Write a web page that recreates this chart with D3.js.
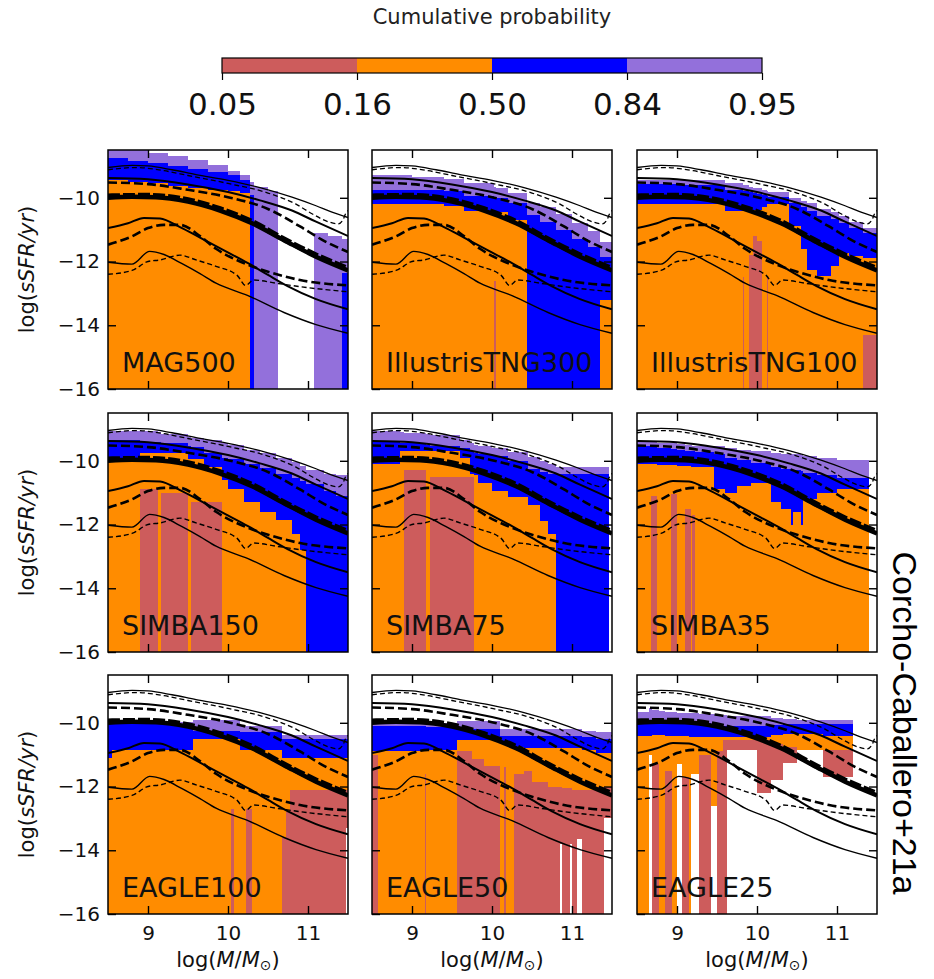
<!DOCTYPE html>
<html>
<head>
<meta charset="utf-8">
<script src="https://cdn.jsdelivr.net/npm/d3@7"></script>
<style>
  body { margin: 0; background: #fff; }
  svg { display: block; font-family: "DejaVu Sans", sans-serif; }
</style>
</head>
<body>
<div id="chart"></div>
<script>
// null = percentile below the plotted range (sSFR = 0)
const N = null;

const panelNames = ["MAG500", "IllustrisTNG300", "IllustrisTNG100",
                    "SIMBA150", "SIMBA75", "SIMBA35",
                    "EAGLE100", "EAGLE50", "EAGLE25"];
const cbarLabels = ["0.05", "0.16", "0.50", "0.84", "0.95"];
const bandColors = ["#cd5c5c", "#ff8c00", "#0000ff", "#9370db"];
const xTicks = [9, 10, 11];
const yTicks = [-10, -12, -14, -16];

// each bin: [log M start, p5, p16, p50, p84, p95] of log sSFR
const binsMAG500 = [
  [8.50, N, N, -9.45, -8.75, -8.3], [8.75, N, N, -9.5, -8.85, -8.45],
  [9.00, N, N, -9.55, -8.9, -8.58], [9.25, N, N, -9.62, -9.0, -8.68],
  [9.50, N, N, -9.7, -9.1, -8.8], [9.75, N, N, -9.75, -9.2, -8.98],
  [10.00, N, N, -9.8, -9.3, -9.15], [10.15, N, N, -9.85, -9.45, -9.3],
  [10.27, N, N, N, -9.9, -9.5], [10.33, N, N, N, N, -9.65],
  [10.50, N, N, N, N, -9.8], [10.62, N, N, N, N, N],
  [11.08, N, N, N, N, -11.1], [11.25, N, N, N, N, -11.2],
  [11.42, N, N, N, -12.35, -11.3]
];
const binsTNG300 = [
  [8.50, N, N, -10.2, -9.74, -9.3], [9.00, N, N, -10.2, -9.74, -9.35],
  [9.40, N, N, -10.25, -9.78, -9.4], [9.65, N, N, -10.4, -9.95, -9.55],
  [10.02, N, -12.6, -10.5, -10.0, -9.65], [10.05, N, N, -10.45, -10.0, -9.7],
  [10.20, N, N, -10.7, -10.15, -9.85], [10.44, N, N, N, -10.55, -10.15],
  [10.60, N, N, N, -10.75, -10.3], [10.80, N, N, N, -11.0, -10.5],
  [11.00, N, N, N, -11.3, -10.8], [11.20, N, N, N, -11.55, -11.05],
  [11.35, N, N, -13.2, -11.85, -11.4]
];
const binsTNG100 = [
  [8.50, N, N, -10.2, -9.58, -9.43], [9.00, N, N, -10.2, -9.6, -9.45],
  [9.60, N, N, -10.42, -9.75, -9.55], [9.82, N, -12.5, -10.4, -9.8, -9.6],
  [9.84, N, N, -10.4, -9.8, -9.6], [9.90, N, -11.8, -10.37, -9.82, -9.65],
  [9.95, N, -11.2, -10.37, -9.85, -9.68], [10.00, N, -11.35, -10.37, -9.88, -9.7],
  [10.06, N, N, -10.3, -9.9, -9.75], [10.12, N, -12.5, -10.2, -9.95, -9.8],
  [10.14, N, N, -10.2, -9.98, -9.82], [10.40, N, N, -10.9, -10.15, -10.0],
  [10.55, N, N, -11.6, -10.3, -10.1], [10.62, N, N, -12.25, -10.4, -10.15],
  [10.75, N, N, -12.45, -10.57, -10.36], [10.92, N, N, -12.15, -10.65, -10.45],
  [11.02, N, N, -11.72, -10.78, -10.57], [11.15, N, N, -11.83, -10.95, -10.75],
  [11.33, N, -14.3, -11.88, -11.1, -10.95]
];
const binsSIMBA150 = [
  [8.50, N, N, -10.0, -9.34, -9.08], [8.90, N, -10.9, -9.75, -9.4, -9.08],
  [9.12, N, N, -9.75, -9.42, -9.1], [9.16, N, -11.0, -9.75, -9.45, -9.15],
  [9.50, N, N, -9.95, -9.55, -9.24], [9.54, N, -11.3, -9.95, -9.58, -9.27],
  [9.70, N, -11.3, -10.2, -9.75, -9.35], [9.92, N, N, -10.6, -9.9, -9.45],
  [10.00, N, N, -10.9, -9.95, -9.5], [10.20, N, N, -11.3, -10.1, -9.65],
  [10.40, N, N, -11.6, -10.22, -9.75], [10.60, N, N, -11.85, -10.4, -9.9],
  [10.80, N, N, -12.3, -10.55, -10.05], [10.90, N, N, -12.8, -10.62, -10.15],
  [10.97, N, N, N, -10.72, -10.28], [11.20, N, N, N, -10.95, -10.4],
  [11.35, N, N, N, -11.1, -10.44]
];
const binsSIMBA75 = [
  [8.50, N, N, -10.1, -9.4, -9.08], [8.85, N, N, -9.7, -9.43, -9.1],
  [8.90, N, -10.3, -9.7, -9.45, -9.12], [9.18, N, N, -9.7, -9.5, -9.15],
  [9.22, N, -10.5, -9.7, -9.52, -9.2], [9.60, N, -10.5, -9.9, -9.6, -9.35],
  [9.73, N, -10.5, -10.4, -9.7, -9.45], [9.77, N, N, -10.45, -9.75, -9.5],
  [9.83, N, N, -10.7, -9.8, -9.55], [10.00, N, N, -10.95, -9.86, -9.6],
  [10.20, N, N, -11.15, -10.0, -9.72], [10.45, N, N, -11.4, -10.25, -9.88],
  [10.60, N, N, -11.9, -10.35, -10.0], [10.70, N, N, -12.3, -10.4, -10.1],
  [10.80, N, N, N, -10.42, -10.18], [11.46, N, N, N, N, N]
];
const binsSIMBA35 = [
  [8.50, N, N, -10.1, -9.55, -9.4], [8.67, N, -11.1, -10.1, -9.57, -9.42],
  [8.75, N, N, -10.12, -9.6, -9.43], [8.92, N, -11.05, -10.12, -9.62, -9.45],
  [9.00, N, N, -10.15, -9.65, -9.47], [9.10, N, -11.5, -10.15, -9.68, -9.5],
  [9.17, N, N, -10.18, -9.7, -9.5], [9.19, N, -11.7, -10.18, -9.7, -9.52],
  [9.22, N, N, -10.2, -9.72, -9.53], [9.46, N, N, -10.9, -9.8, -9.55],
  [9.60, N, N, -11.0, -9.9, -9.6], [9.75, N, N, -10.8, -9.98, -9.65],
  [9.92, N, N, -10.7, -10.07, -9.7], [10.17, N, N, -11.3, -10.2, -9.75],
  [10.30, N, N, -11.5, -10.25, -9.78], [10.42, N, N, -12.0, -10.28, -9.8],
  [10.45, N, N, -11.6, -10.3, -9.8], [10.55, N, N, -12.0, -10.33, -9.82],
  [10.58, N, N, -11.2, -10.38, -9.85], [10.75, N, N, -11.0, -10.45, -9.9],
  [11.00, N, N, -10.9, -10.55, -9.98], [11.40, N, N, N, N, N]
];
const binsEAGLE100 = [
  [8.50, N, N, -11.1, -10.05, -9.98], [8.55, N, N, -10.84, -10.05, -9.98],
  [9.56, N, N, -10.52, -10.26, -9.9], [10.04, N, -12.7, -10.52, -10.26, -9.9],
  [10.08, N, N, -10.52, -10.26, -9.9], [10.15, N, N, -10.84, -10.3, -10.1],
  [10.22, N, -12.7, -10.84, -10.3, -10.1], [10.30, N, N, -10.84, -10.3, -10.1],
  [10.67, N, -13.6, -11.1, -10.52, -10.37], [10.72, N, -12.8, -11.1, -10.52, -10.37],
  [10.78, N, -12.1, -11.1, -10.52, -10.37], [11.48, -13.3, -12.1, -11.1, -10.52, -10.37]
];
const binsEAGLE50 = [
  [8.50, N, -11.0, -10.9, -10.1, -10.0], [8.57, N, N, -10.9, -10.1, -10.0],
  [9.16, N, -11.6, -10.88, -10.1, -10.0], [9.18, N, N, -10.85, -10.12, -10.0],
  [9.56, N, -10.9, -10.55, -10.2, -9.95], [9.75, N, -11.15, -10.55, -10.2, -9.95],
  [9.90, N, -11.35, -10.55, -10.2, -9.95], [10.10, N, N, -10.65, -10.4, -10.2],
  [10.15, N, -11.4, -10.65, -10.4, -10.2], [10.17, N, N, -10.7, -10.4, -10.2],
  [10.27, N, -11.6, -10.75, -10.4, -10.2], [10.40, N, -11.5, -10.78, -10.4, -10.2],
  [10.50, N, -11.85, -10.8, -10.4, -10.2], [10.70, N, -12.0, -10.8, -10.4, -10.2],
  [10.85, -13.8, -12.0, -10.8, -10.4, -10.2], [10.88, N, -12.05, -10.8, -10.4, -10.2],
  [10.98, -13.8, -12.05, -10.8, -10.4, -10.2], [11.00, N, -12.1, -10.8, -10.4, -10.2],
  [11.06, -13.65, -12.1, -10.8, -10.4, -10.2], [11.13, N, -12.1, -10.85, -10.45, -10.25],
  [11.30, N, -12.0, -10.95, -10.5, -10.3], [11.40, -13.0, -12.0, -10.95, -10.5, -10.3]
];
const binsEAGLE25 = [
  [8.50, N, N, -10.4, -9.95, -9.65], [8.65, -11.0, -11.0, -10.4, -9.95, -9.55],
  [8.69, N, -11.3, -10.38, -9.95, -9.6], [8.77, N, N, -10.38, -9.95, -9.62],
  [8.85, N, -11.5, -10.4, -9.98, -9.65], [8.94, N, N, -10.4, -9.98, -9.65],
  [9.00, -11.3, -11.3, -10.42, -10.0, -9.68], [9.06, N, -11.7, -10.42, -10.0, -9.68],
  [9.15, N, N, -10.45, -10.0, -9.7], [9.17, -11.6, -11.6, -10.45, -10.02, -9.7],
  [9.27, N, -11.0, -10.45, -10.02, -9.72], [9.42, -12.6, -12.6, -10.45, -10.05, -9.72],
  [9.50, N, -10.9, -10.45, -10.05, -9.75], [9.58, N, -10.55, -10.45, -10.1, -9.75],
  [9.62, -10.85, -10.55, -10.45, -10.1, -9.78], [10.00, -12.2, -10.55, -10.45, -10.1, -9.8],
  [10.17, -11.8, -10.65, -10.37, -10.08, -9.85], [10.33, -11.25, -10.75, -10.35, -10.05, -9.88],
  [10.50, -10.85, -10.85, -10.35, -10.05, -9.9], [10.83, -11.7, -10.85, -10.4, -10.05, -9.9],
  [11.20, N, N, N, N, N]
];
const panelBins = [binsMAG500, binsTNG300, binsTNG100, binsSIMBA150, binsSIMBA75,
                   binsSIMBA35, binsEAGLE100, binsEAGLE50, binsEAGLE25];

// reference percentile curves, the same in every panel: [log M, log sSFR]
const solid95 = [[8.5,-9.05],[8.8,-8.98],[9.0,-9.0],[9.3,-9.12],[9.6,-9.27],[10.0,-9.45],[10.4,-9.68],[10.8,-9.98],[11.1,-10.25],[11.3,-10.45],[11.5,-10.62]];
const dashed95 = [[8.5,-9.12],[8.85,-9.05],[9.2,-9.15],[9.5,-9.3],[10.0,-9.55],[10.5,-9.85],[10.85,-10.2],[11.05,-10.5],[11.25,-10.75],[11.38,-10.82],[11.44,-10.68],[11.47,-10.5],[11.5,-10.4]];
const solid84 = [[8.5,-9.38],[9.0,-9.42],[9.5,-9.58],[10.0,-9.82],[10.4,-10.08],[10.8,-10.4],[11.1,-10.75],[11.5,-11.2]];
const dashed84 = [[8.5,-9.52],[9.0,-9.57],[9.5,-9.75],[10.0,-9.98],[10.5,-10.35],[10.9,-10.9],[11.2,-11.35],[11.5,-11.7]];
const solid50 = [[8.5,-10.0],[8.8,-9.97],[9.1,-9.98],[9.5,-10.12],[9.9,-10.4],[10.3,-10.8],[10.7,-11.33],[11.1,-11.85],[11.5,-12.28]];
const dashed50 = [[8.5,-9.95],[9.0,-9.93],[9.5,-10.07],[9.9,-10.35],[10.3,-10.75],[10.7,-11.3],[11.1,-11.8],[11.5,-12.22]];
const solid16 = [[8.5,-10.95],[8.75,-10.8],[8.95,-10.63],[9.15,-10.65],[9.4,-10.92],[9.65,-11.25],[9.95,-11.65],[10.25,-12.05],[10.5,-12.42],[10.75,-12.78],[11.1,-13.18],[11.5,-13.5]];
const dashed16 = [[8.5,-11.47],[8.8,-11.21],[9.0,-10.95],[9.2,-10.85],[9.4,-10.85],[9.65,-11.2],[9.85,-11.6],[10.15,-12.0],[10.5,-12.32],[10.9,-12.58],[11.5,-12.75]];
const solid5 = [[8.5,-12.02],[8.8,-12.08],[9.02,-11.68],[9.2,-11.78],[9.42,-12.06],[9.65,-12.38],[9.85,-12.68],[10.25,-13.07],[10.7,-13.6],[11.1,-13.98],[11.5,-14.25]];
const dashed5 = [[8.5,-12.4],[8.8,-12.28],[9.0,-12.0],[9.15,-11.95],[9.4,-11.8],[9.6,-11.95],[9.85,-12.15],[10.12,-12.45],[10.22,-12.75],[10.32,-12.58],[10.6,-12.68],[11.0,-12.82],[11.5,-12.95]];

// line styles for the reference curves
const refLines = [
  { pts: solid95, w: 1.3, dash: null }, { pts: dashed95, w: 1.3, dash: "5,3" },
  { pts: solid84, w: 2, dash: null }, { pts: dashed84, w: 2.6, dash: "9,4" },
  { pts: solid50, w: 4.5, dash: null }, { pts: dashed50, w: 5.5, dash: "12,3" },
  { pts: solid16, w: 2, dash: null }, { pts: dashed16, w: 2.6, dash: "9,4" },
  { pts: solid5, w: 1.4, dash: null }, { pts: dashed5, w: 1.4, dash: "5,3" }
];

const W = 934, H = 979;
const colX = [108, 372, 637], rowY = [150, 413, 675];
const pw = 240, ph = 239;
const FLOOR = -17;

const svg = d3.select("#chart").append("svg")
    .attr("width", W)
    .attr("height", H);

const x = d3.scaleLinear().domain([8.5, 11.5]).range([0, pw]);
const y = d3.scaleLinear().domain([-16, -8.5]).range([ph, 0]);
const val = v => v === null ? FLOOR : v;

const refLine = d3.line()
    .curve(d3.curveMonotoneX)
    .x(d => x(d[0]))
    .y(d => y(d[1]));

panelNames.forEach((name, i) => {
  const col = i % 3, row = Math.floor(i / 3);
  const g = svg.append("g")
      .attr("transform", `translate(${colX[col]},${rowY[row]})`);

  g.append("clipPath").attr("id", "clip" + i)
    .append("rect").attr("width", pw).attr("height", ph);
  const plot = g.append("g").attr("clip-path", `url(#clip${i})`);

  // percentile bands, step-wise in mass
  const bins = panelBins[i];
  const data = bins.concat([[11.5].concat(bins[bins.length - 1].slice(1))]);
  bandColors.forEach((c, k) => {
    const area = d3.area()
        .curve(d3.curveStepAfter)
        .x(d => x(d[0]))
        .y0(d => y(val(d[k + 1])))
        .y1(d => y(val(d[k + 2])));
    plot.append("path")
        .datum(data)
        .attr("d", area)
        .attr("fill", c)
        .attr("shape-rendering", "crispEdges");
  });

  // reference curves
  refLines.forEach(r => {
    plot.append("path")
        .datum(r.pts)
        .attr("d", refLine)
        .attr("fill", "none")
        .attr("stroke", "#000")
        .attr("stroke-width", r.w)
        .attr("stroke-dasharray", r.dash);
  });

  g.append("text")
      .attr("x", 14)
      .attr("y", ph - 17)
      .attr("font-size", 27)
      .attr("fill", "#111")
      .text(name);

  // inward ticks on all four sides
  g.append("g")
      .attr("transform", `translate(0,${ph})`)
      .call(d3.axisBottom(x).tickValues(xTicks).tickSize(-8).tickPadding(12)
        .tickFormat(row === 2 ? d3.format("d") : ""));
  g.append("g")
      .call(d3.axisTop(x).tickValues(xTicks).tickSize(-8).tickFormat(""));
  g.append("g")
      .call(d3.axisLeft(y).tickValues(yTicks).tickSize(-8).tickPadding(8)
        .tickFormat(col === 0 ? d3.format("d") : ""));
  g.append("g")
      .attr("transform", `translate(${pw},0)`)
      .call(d3.axisRight(y).tickValues([-10, -12, -14]).tickSize(-8).tickFormat(""));

  g.selectAll(".domain").remove();
  g.selectAll(".tick line").attr("stroke", "#000").attr("stroke-width", 1.4);
  g.selectAll(".tick text")
      .attr("font-family", "DejaVu Sans")
      .attr("font-size", 20)
      .attr("fill", "#111");

  g.append("rect")
      .attr("width", pw)
      .attr("height", ph)
      .attr("fill", "none")
      .attr("stroke", "#000")
      .attr("stroke-width", 1.5);

  if (row === 2) {
    const xl = g.append("text")
        .attr("x", pw / 2)
        .attr("y", ph + 53)
        .attr("text-anchor", "middle")
        .attr("font-size", 21)
        .attr("fill", "#111");
    xl.append("tspan").text("log(");
    xl.append("tspan").attr("font-style", "italic").text("M");
    xl.append("tspan").text("/");
    xl.append("tspan").attr("font-style", "italic").text("M");
    xl.append("tspan").attr("font-size", 14).attr("dy", 3).text("\u2299");
    xl.append("tspan").attr("dy", -3).text(")");
  }
  if (col === 0) {
    const yl = g.append("text")
        .attr("transform", `translate(-74,${ph / 2}) rotate(-90)`)
        .attr("text-anchor", "middle")
        .attr("font-size", 21)
        .attr("fill", "#111");
    yl.append("tspan").text("log(");
    yl.append("tspan").attr("font-style", "italic").text("sSFR/yr");
    yl.append("tspan").text(")");
  }
});

// colorbar
const cb = d3.scaleLinear().domain([0, cbarLabels.length - 1]).range([222, 762]);
const cbar = svg.append("g").attr("transform", "translate(0,58)");
bandColors.forEach((c, k) => {
  cbar.append("rect")
      .attr("x", cb(k))
      .attr("width", cb(k + 1) - cb(k))
      .attr("height", 15)
      .attr("fill", c);
});
cbar.append("rect")
    .attr("x", cb(0))
    .attr("width", cb(cbarLabels.length - 1) - cb(0))
    .attr("height", 15)
    .attr("fill", "none")
    .attr("stroke", "#000")
    .attr("stroke-width", 1.2);
cbar.append("g")
    .attr("transform", "translate(0,15)")
    .call(d3.axisBottom(cb).tickValues(d3.range(cbarLabels.length)).tickSize(7).tickPadding(13)
      .tickFormat(i => cbarLabels[i]))
    .call(a => a.select(".domain").remove())
    .call(a => a.selectAll(".tick line").attr("stroke-width", 1.2))
    .call(a => a.selectAll(".tick text")
      .attr("font-family", "DejaVu Sans").attr("font-size", 31).attr("fill", "#111"));

svg.append("text")
    .attr("x", 492)
    .attr("y", 24)
    .attr("text-anchor", "middle")
    .attr("font-size", 21)
    .attr("fill", "#222")
    .text("Cumulative probability");

svg.append("text")
    .attr("transform", "translate(893,723) rotate(90)")
    .attr("text-anchor", "middle")
    .attr("font-family", "Liberation Sans, Arial, sans-serif")
    .attr("font-size", 34)
    .attr("fill", "#000")
    .text("Corcho-Caballero+21a");
</script>
</body>
</html>
